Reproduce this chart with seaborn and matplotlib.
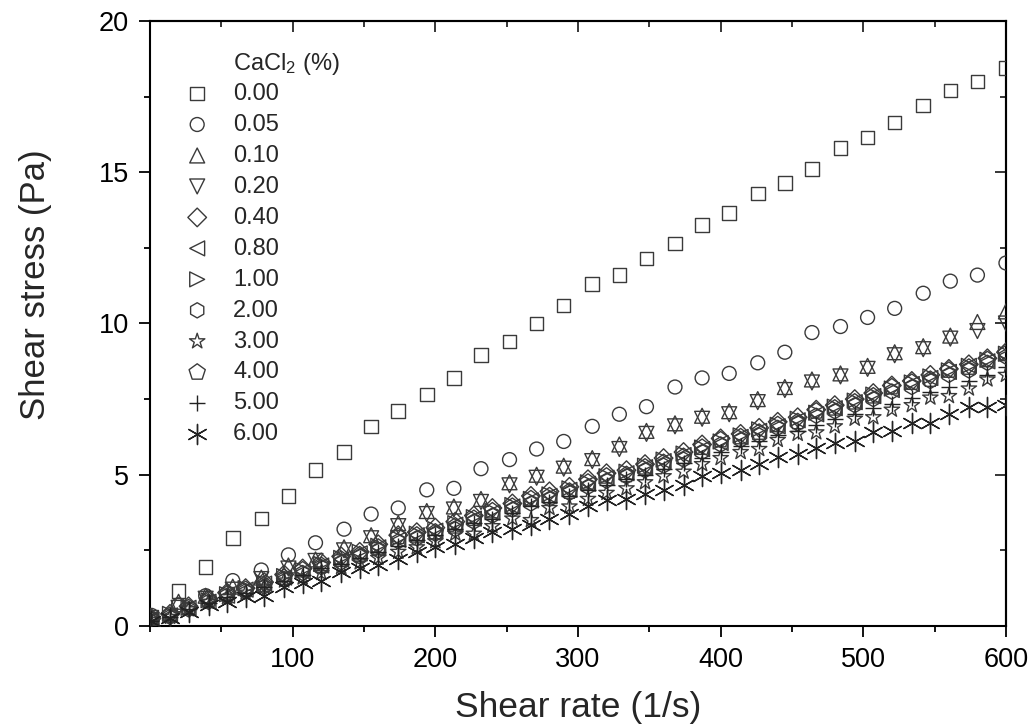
import pandas as pd
import seaborn as sns
import matplotlib.pyplot as plt
from matplotlib.ticker import MultipleLocator

# shear rate grids (1/s)
rate_a = [1, 20, 39, 58, 78, 97, 116, 136, 155, 174, 194, 213, 232, 252, 271, 290,
          310, 329, 348, 368, 387, 406, 426, 445, 464, 484, 503, 522, 542, 561, 580, 600]
rate_b = [1, 14, 27, 41, 54, 67, 80, 94, 107, 120, 134, 147, 160, 174, 187, 200,
          214, 227, 240, 254, 267, 280, 294, 307, 320, 334, 347, 360, 374, 387, 400,
          414, 427, 440, 454, 467, 480, 494, 507, 520, 534, 547, 560, 574, 587, 600]

# shear stress (Pa) per CaCl2 level
s_000 = [0.3, 1.15, 1.95, 2.9, 3.55, 4.3, 5.15, 5.75, 6.6, 7.1, 7.65, 8.2, 8.95, 9.4, 10.0, 10.6,
         11.3, 11.6, 12.15, 12.65, 13.25, 13.65, 14.3, 14.65, 15.1, 15.8, 16.15, 16.65, 17.2, 17.7, 18.0, 18.45]
s_005 = [0.35, 0.7, 1.0, 1.5, 1.85, 2.35, 2.75, 3.2, 3.7, 3.9, 4.5, 4.55, 5.2, 5.5, 5.85, 6.1,
         6.6, 7.0, 7.25, 7.9, 8.2, 8.35, 8.7, 9.05, 9.7, 9.9, 10.2, 10.5, 11.0, 11.4, 11.6, 12.0]
s_010 = [0.3, 0.8, 1.0, 1.3, 1.6, 2.0, 2.2, 2.6, 3.0, 3.4, 3.8, 3.95, 4.2, 4.75, 5.0, 5.3,
         5.55, 6.0, 6.45, 6.7, 6.95, 7.1, 7.5, 7.9, 8.15, 8.35, 8.6, 9.05, 9.25, 9.6, 10.05, 10.4]
s_020 = [0.2, 0.6, 0.9, 1.2, 1.55, 1.9, 2.15, 2.5, 2.9, 3.3, 3.7, 3.85, 4.1, 4.65, 4.9, 5.2,
         5.45, 5.85, 6.35, 6.6, 6.85, 7.0, 7.4, 7.8, 8.05, 8.25, 8.5, 8.95, 9.15, 9.5, 9.75, 10.0]
s_040 = [0.25, 0.4, 0.65, 0.9, 1.1, 1.25, 1.45, 1.7, 1.9, 2.1, 2.3, 2.45, 2.7, 3.0, 3.1, 3.25,
         3.45, 3.65, 3.9, 4.05, 4.3, 4.45, 4.6, 4.85, 5.05, 5.15, 5.35, 5.55, 5.75, 6.0, 6.2,
         6.35, 6.55, 6.75, 6.9, 7.15, 7.3, 7.5, 7.7, 7.95, 8.1, 8.3, 8.5, 8.65, 8.85, 9.05]
s_080 = [0.2, 0.35, 0.6, 0.8, 1.0, 1.2, 1.4, 1.6, 1.8, 2.0, 2.2, 2.4, 2.6, 2.85, 3.0, 3.15,
         3.35, 3.55, 3.75, 3.95, 4.15, 4.3, 4.5, 4.7, 4.9, 5.05, 5.25, 5.45, 5.65, 5.85, 6.05,
         6.25, 6.45, 6.6, 6.8, 7.0, 7.2, 7.4, 7.6, 7.8, 8.0, 8.2, 8.4, 8.6, 8.75, 8.95]
s_100 = [0.2, 0.4, 0.6, 0.85, 1.05, 1.25, 1.4, 1.65, 1.85, 2.05, 2.25, 2.45, 2.65, 2.9, 3.05, 3.2,
         3.4, 3.6, 3.8, 4.0, 4.2, 4.35, 4.55, 4.75, 4.95, 5.1, 5.3, 5.5, 5.7, 5.9, 6.1,
         6.3, 6.5, 6.65, 6.85, 7.05, 7.25, 7.45, 7.65, 7.85, 8.05, 8.25, 8.45, 8.6, 8.8, 9.0]
s_200 = [0.15, 0.3, 0.55, 0.8, 1.0, 1.15, 1.3, 1.55, 1.75, 1.95, 2.1, 2.3, 2.5, 2.8, 2.9, 3.05,
         3.2, 3.45, 3.65, 3.85, 4.05, 4.2, 4.4, 4.6, 4.8, 4.95, 5.15, 5.3, 5.5, 5.75, 6.0,
         6.15, 6.3, 6.55, 6.7, 6.95, 7.1, 7.3, 7.5, 7.75, 7.9, 8.1, 8.3, 8.45, 8.7, 8.9]
s_300 = [0.1, 0.3, 0.55, 0.8, 0.95, 1.1, 1.3, 1.5, 1.6, 1.75, 1.95, 2.1, 2.25, 2.45, 2.6, 2.8,
         3.05, 3.05, 3.3, 3.55, 3.5, 3.9, 3.95, 4.2, 4.4, 4.55, 4.75, 4.95, 5.1, 5.35, 5.55,
         5.75, 5.85, 6.15, 6.35, 6.4, 6.6, 6.85, 6.9, 7.15, 7.3, 7.55, 7.6, 7.85, 8.15, 8.3]
s_400 = [0.2, 0.35, 0.6, 0.85, 1.05, 1.2, 1.35, 1.6, 1.85, 2.0, 2.2, 2.35, 2.6, 2.95, 3.0, 3.1,
         3.3, 3.55, 3.8, 3.95, 4.2, 4.3, 4.45, 4.75, 4.95, 5.0, 5.25, 5.4, 5.6, 5.9, 6.15,
         6.25, 6.4, 6.65, 6.75, 7.1, 7.2, 7.4, 7.6, 7.9, 8.05, 8.15, 8.45, 8.55, 8.8, 9.0]
s_500 = [0.15, 0.3, 0.55, 0.75, 0.95, 1.1, 1.3, 1.5, 1.7, 1.9, 2.05, 2.25, 2.45, 2.65, 2.85, 3.0,
         3.2, 3.4, 3.55, 3.75, 3.95, 4.1, 4.3, 4.5, 4.65, 4.85, 5.0, 5.2, 5.4, 5.55, 5.75,
         5.95, 6.1, 6.3, 6.45, 6.65, 6.85, 7.0, 7.2, 7.35, 7.55, 7.75, 7.9, 8.1, 8.3, 8.55]
s_600 = [0.15, 0.25, 0.45, 0.7, 0.8, 0.95, 1.0, 1.3, 1.42, 1.5, 1.8, 1.92, 2.0, 2.2, 2.45, 2.6,
         2.72, 2.9, 3.1, 3.2, 3.35, 3.55, 3.7, 3.95, 4.15, 4.2, 4.35, 4.5, 4.65, 4.95, 5.05,
         5.15, 5.35, 5.6, 5.7, 5.9, 6.05, 6.1, 6.4, 6.45, 6.7, 6.7, 7.0, 7.24, 7.24, 7.3]

labels = ['0.00', '0.05', '0.10', '0.20', '0.40', '0.80', '1.00', '2.00', '3.00', '4.00', '5.00', '6.00']
rates = [rate_a] * 4 + [rate_b] * 8
stresses = [s_000, s_005, s_010, s_020, s_040, s_080, s_100, s_200, s_300, s_400, s_500, s_600]
markers = ['s', 'o', '^', 'v', 'D', '<', '>', 'h', '*', 'p', '+', (6, 2, 0)]
sizes = [95, 100, 115, 115, 90, 115, 115, 120, 135, 150, 125, 210]


def shear_plot():
    sns.set_style('ticks')
    plt.rcParams['font.family'] = ['Liberation Sans', 'DejaVu Sans']
    plt.rcParams['mathtext.fontset'] = 'custom'
    plt.rcParams['mathtext.rm'] = 'Liberation Sans'
    plt.rcParams['mathtext.it'] = 'Liberation Sans:italic'

    fig, ax = plt.subplots(figsize=(10.29, 7.25), dpi=100)
    fig.subplots_adjust(left=0.1458, right=0.9776, bottom=0.1366, top=0.971)

    ec = '#3a3a3a'
    for lab, x, y, m, s in zip(labels, rates, stresses, markers, sizes):
        df = pd.DataFrame({'rate': x, 'stress': y})
        if m in ['+', (6, 2, 0)]:
            sns.scatterplot(data=df, x='rate', y='stress', marker=m, s=s, color='#222222',
                            linewidth=1.0, label=lab, ax=ax, zorder=3)
        else:
            sns.scatterplot(data=df, x='rate', y='stress', marker=m, s=s, facecolor='none',
                            edgecolor=ec, linewidth=1.0, label=lab, ax=ax, zorder=3)

    ax.set_xlim(0, 600)
    ax.set_ylim(0, 20)
    ax.set_xticks([100, 200, 300, 400, 500, 600])
    ax.set_yticks([0, 5, 10, 15, 20])
    ax.xaxis.set_minor_locator(MultipleLocator(50))
    ax.yaxis.set_minor_locator(MultipleLocator(2.5))
    ax.tick_params(which='both', direction='out', top=False, right=False, width=1.3,
                   labelsize=19.5, colors='black', pad=7)
    ax.tick_params(which='major', length=8)
    ax.tick_params(which='minor', length=4)
    for sp in ax.spines.values():
        sp.set_linewidth(1.5)
        sp.set_color('black')

    top = ax.secondary_xaxis('top')
    top.set_xticks([100, 200, 300, 400, 500, 600])
    top.xaxis.set_minor_locator(MultipleLocator(50))
    top.tick_params(which='both', direction='in', labeltop=False, width=1.3)
    top.tick_params(which='major', length=8)
    top.tick_params(which='minor', length=4)
    top.spines['top'].set_linewidth(1.5)
    right = ax.secondary_yaxis('right')
    right.set_yticks([0, 5, 10, 15, 20])
    right.yaxis.set_minor_locator(MultipleLocator(2.5))
    right.tick_params(which='both', direction='in', labelright=False, width=1.3)
    right.tick_params(which='major', length=8)
    right.tick_params(which='minor', length=4)
    right.spines['right'].set_linewidth(1.5)

    ax.set_xlabel('Shear rate (1/s)', fontsize=25.5)
    ax.set_ylabel('Shear stress (Pa)', fontsize=25)
    ax.xaxis.set_label_coords(0.5, -0.108)
    ax.yaxis.set_label_coords(-0.114, 0.564)

    ax.legend(loc='upper left', bbox_to_anchor=(0.042, 0.898), frameon=False, fontsize=17,
              handlelength=0.95, handletextpad=1.05, labelspacing=0.38, borderpad=0,
              borderaxespad=0)
    ax.text(0.097, 0.929, 'CaCl$_2$ (%)', transform=ax.transAxes, fontsize=17,
            ha='left', va='center')

    plt.savefig('out.png', dpi=100)


def main():
    shear_plot()


if __name__ == "__main__":
    main()
